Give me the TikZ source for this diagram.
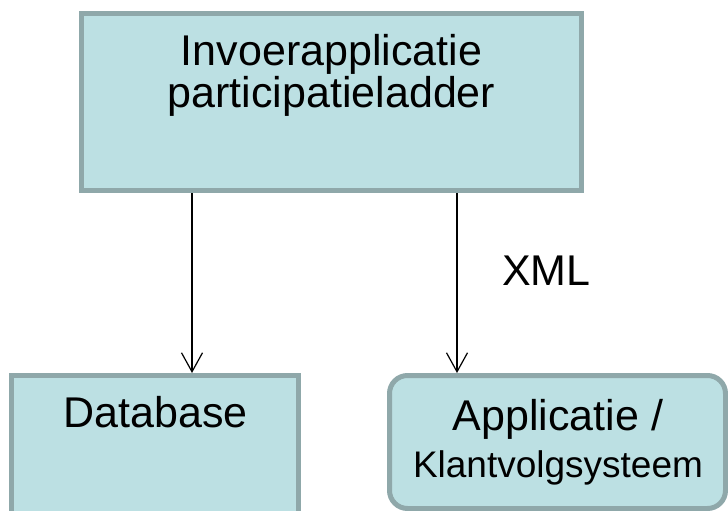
\documentclass[tikz,border=0pt]{standalone}
\usepackage{fontspec}
\setmainfont{Liberation Sans}
\usetikzlibrary{arrows.meta}
\definecolor{boxfill}{RGB}{188,224,227}
\definecolor{boxline}{RGB}{143,168,170}
\begin{document}
\begin{tikzpicture}[x=1pt,y=-1pt,
  panel/.style={draw=boxline,fill=boxfill,line width=5pt,rectangle,inner sep=0pt},
  lbl/.style={inner sep=0pt,align=center,font=\fontsize{43}{42}\selectfont},
  arr/.style={line width=1.3pt,-{Straight Barb[length=19pt,width=21pt,line width=1.2pt]}}]
\useasboundingbox (0,0) rectangle (728,511);
% boxes
\node[panel,minimum width=500pt,minimum height=177pt,outer sep=2.5pt] (top) at (331.5,102) {};
\node[panel,minimum width=287pt,minimum height=170pt,outer sep=2.5pt] (db) at (155,460.5) {};
\node[panel,rounded corners=18pt,minimum width=336pt,minimum height=133pt,outer sep=2.5pt] (app) at (557.5,442) {};
% texts
\node[lbl,anchor=north] (toptext) at (331.5,34) {Invoerapplicatie\\participatieladder};
\node[lbl,anchor=north] (dbtext) at (155.5,396) {Database};
\node[lbl,anchor=north] (apptext) at (558,399) {Applicatie /\\[5pt]{\fontsize{37}{37}\selectfont Klantvolgsysteem}};
% connectors
\coordinate (c1) at (192,0);
\coordinate (c2) at (457,0);
\draw[arr] (top.south -| c1) -- (db.north -| c1);
\draw[arr] (top.south -| c2) -- (app.north -| c2);
\node[lbl,anchor=base] (xml) at (546.5,285) {XML};
\end{tikzpicture}
\end{document}
